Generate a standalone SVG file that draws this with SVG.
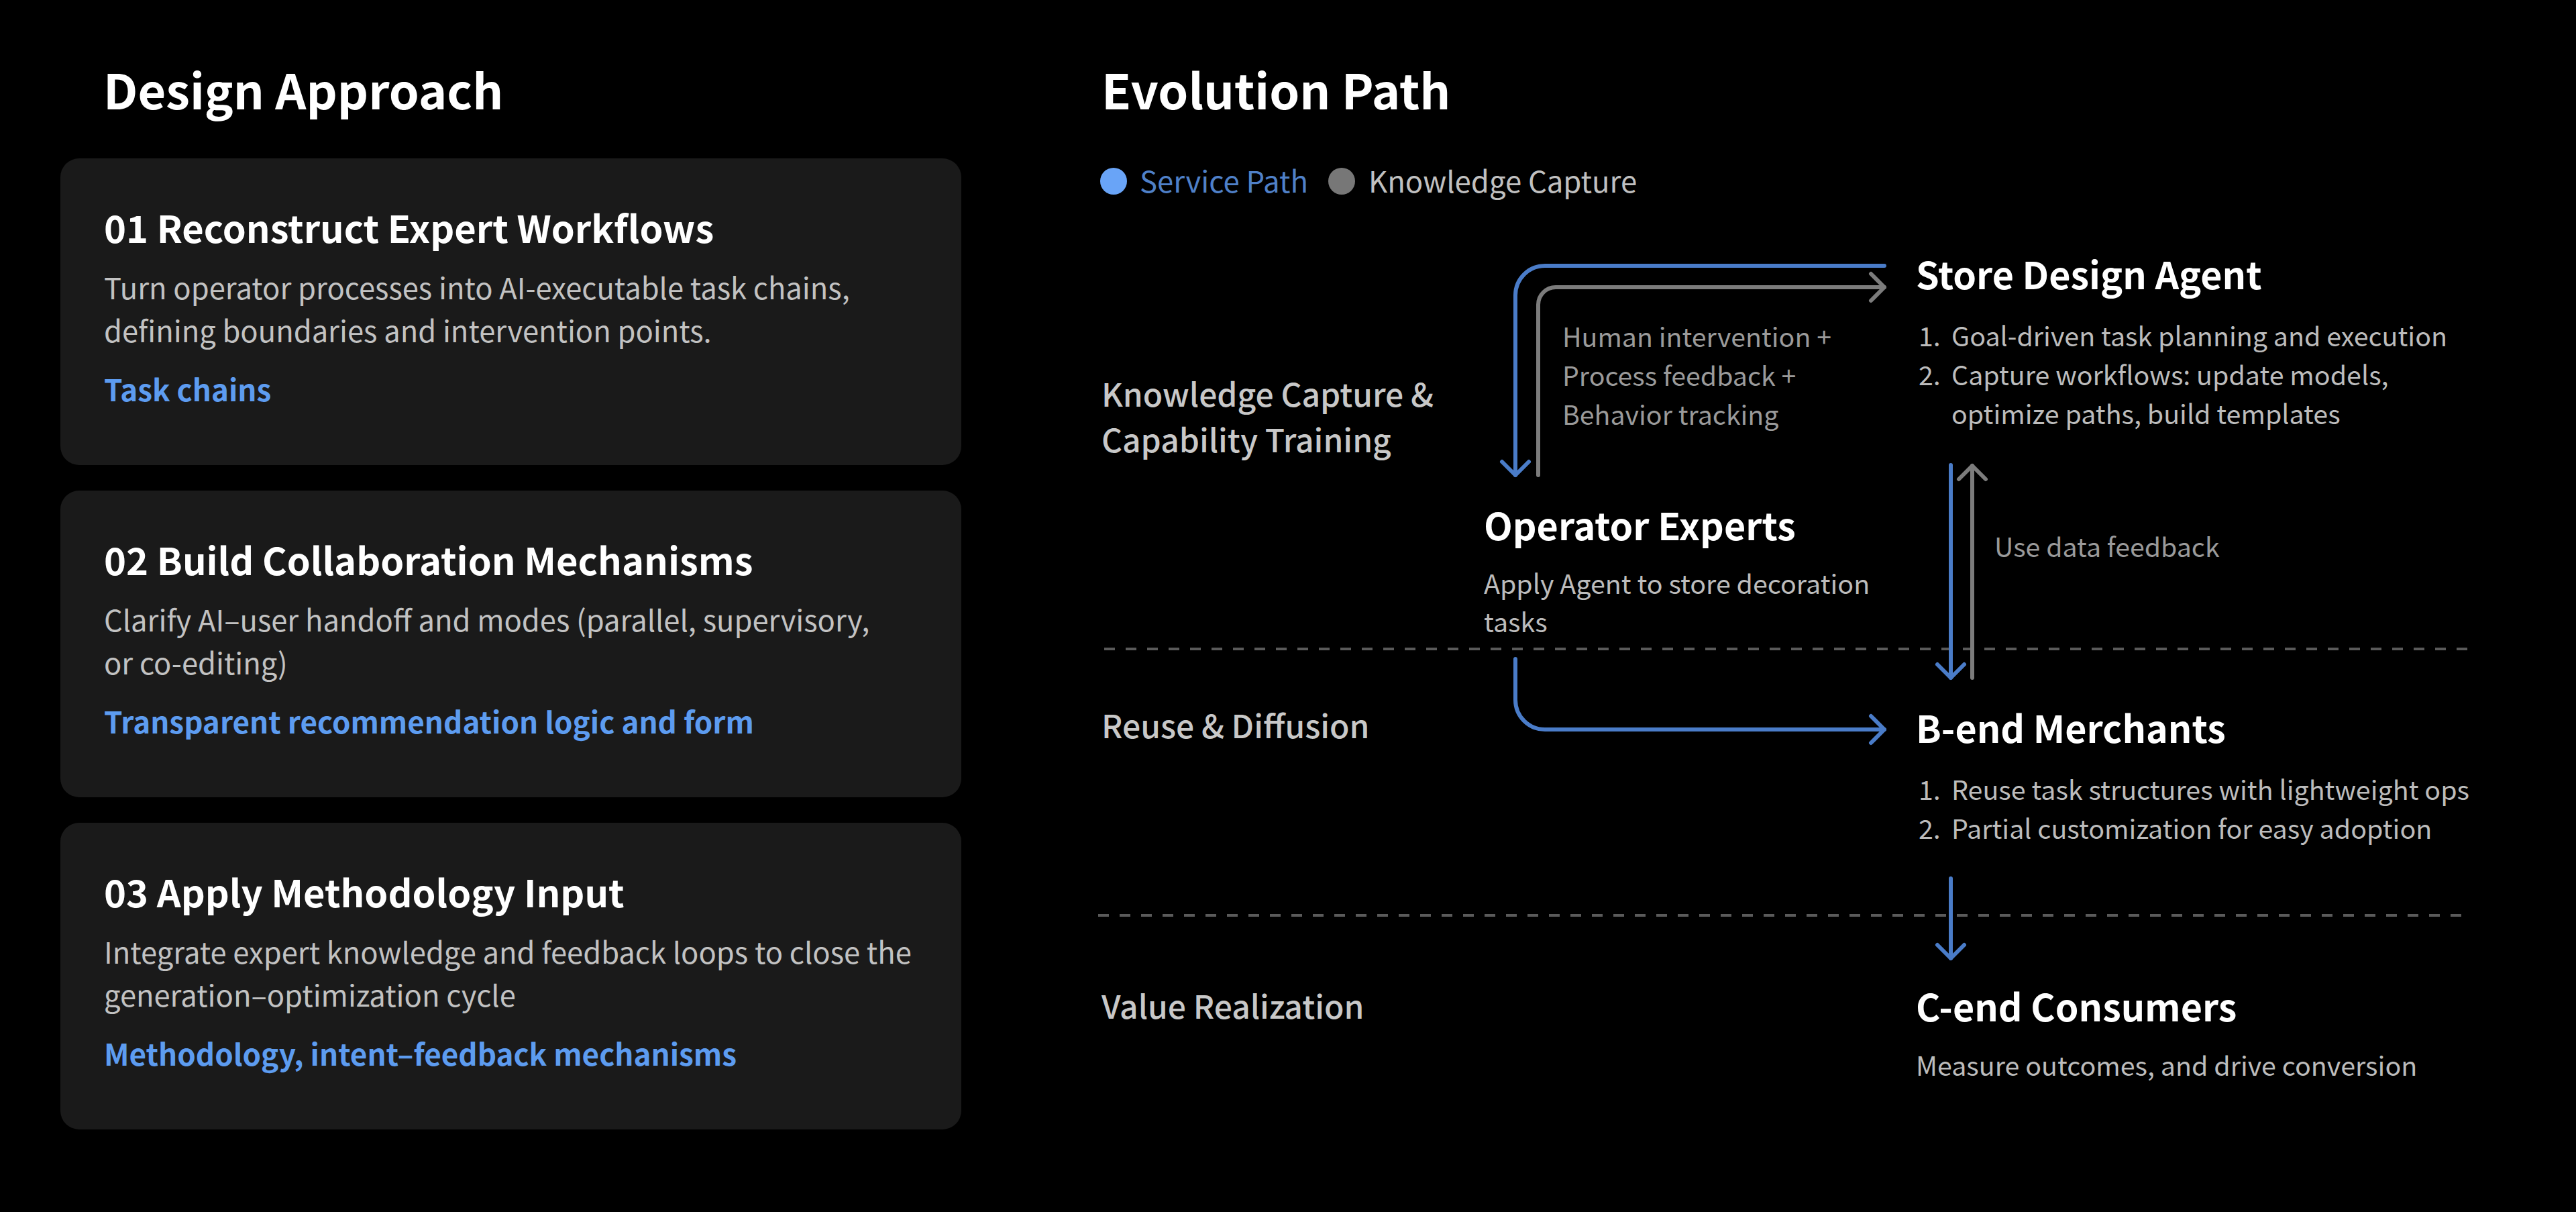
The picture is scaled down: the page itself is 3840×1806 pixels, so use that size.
<svg xmlns="http://www.w3.org/2000/svg" width="3840" height="1806" viewBox="0 0 3840 1806">
  <defs>
    <style>
      text { font-family: "Noto Sans CJK SC", "Noto Sans", sans-serif; }
      .h1 { font-size: 72px; font-weight: 700; fill: #ffffff; }
      .card { fill: #1a1a1a; }
      .ct { font-size: 56px; font-weight: 700; fill: #ffffff; }
      .cd { font-size: 43.5px; font-weight: 400; fill: #c2c2c2; }
      .cl { font-size: 44px; font-weight: 700; fill: #5d9cf0; }
      .lg { font-size: 43.7px; font-weight: 400; }
      .sec { font-size: 48px; font-weight: 500; fill: #c8c8c8; }
      .nt { font-size: 55.6px; font-weight: 700; fill: #ffffff; }
      .nd { font-size: 39.4px; font-weight: 400; fill: #bcbcbc; }
      .el { font-size: 39.3px; font-weight: 400; fill: #9a9a9a; }
      .blue { fill: none; stroke: #4a7cc8; stroke-width: 6; stroke-linecap: round; stroke-linejoin: round; }
      .gray { fill: none; stroke: #7c7c7c; stroke-width: 6; stroke-linecap: round; stroke-linejoin: round; }
      .dash { fill: none; stroke: #5a5a5a; stroke-width: 4; stroke-dasharray: 16 16; }
    </style>
  </defs>

  <rect width="3840" height="1806" fill="#000000"/>

  <!-- Left column: design approach -->
  <text class="h1" x="154" y="163">Design Approach</text>

  <g id="card-01">
    <rect class="card" x="90" y="236" width="1343" height="457" rx="28"/>
    <text class="ct" x="155" y="362">01 Reconstruct Expert Workflows</text>
    <text class="cd" x="155" y="446">Turn operator processes into AI-executable task chains,</text>
    <text class="cd" x="155" y="510">defining boundaries and intervention points.</text>
    <text class="cl" x="155" y="598">Task chains</text>
  </g>

  <g id="card-02">
    <rect class="card" x="90" y="731" width="1343" height="457" rx="28"/>
    <text class="ct" x="155" y="857">02 Build Collaboration Mechanisms</text>
    <text class="cd" x="155" y="941">Clarify AI–user handoff and modes (parallel, supervisory,</text>
    <text class="cd" x="155" y="1005">or co-editing)</text>
    <text class="cl" x="155" y="1093">Transparent recommendation logic and form</text>
  </g>

  <g id="card-03">
    <rect class="card" x="90" y="1226" width="1343" height="457" rx="28"/>
    <text class="ct" x="155" y="1352">03 Apply Methodology Input</text>
    <text class="cd" x="155" y="1436">Integrate expert knowledge and feedback loops to close the</text>
    <text class="cd" x="155" y="1500">generation–optimization cycle</text>
    <text class="cl" x="155" y="1588">Methodology, intent–feedback mechanisms</text>
  </g>

  <!-- Right column: evolution path -->
  <text class="h1" x="1642" y="163">Evolution Path</text>

  <g id="legend">
    <circle cx="1660" cy="270" r="20" fill="#69a4f7"/>
    <text class="lg" x="1699" y="287" fill="#4f80c8">Service Path</text>
    <circle cx="2000" cy="270" r="20" fill="#777777"/>
    <text class="lg" x="2040" y="287" fill="#c0c0c0">Knowledge Capture</text>
  </g>

  <!-- Stage labels and separators -->
  <g id="stages">
    <text class="sec" x="1642" y="606">Knowledge Capture &amp;</text>
    <text class="sec" x="1642" y="674">Capability Training</text>
    <text class="sec" x="1642" y="1100">Reuse &amp; Diffusion</text>
    <text class="sec" x="1642" y="1518">Value Realization</text>
    <line class="dash" x1="1646" y1="967" x2="3686" y2="967"/>
    <line class="dash" x1="1637" y1="1364" x2="3676" y2="1364"/>
  </g>

  <!-- Connectors -->
  <g id="connectors">
    <!-- Store Design Agent to Operator Experts -->
    <path class="blue" d="M2809 396 H2303 A44 44 0 0 0 2259 440 V708"/>
    <path class="blue" d="M2239 688 L2259 708 L2279 688"/>
    <!-- Operator Experts feedback to Store Design Agent -->
    <path class="gray" d="M2293 708 V454 A26 26 0 0 1 2319 428 H2809"/>
    <path class="gray" d="M2789 408 L2809 428 L2789 448"/>
    <text class="el" x="2329" y="517">Human intervention +</text>
    <text class="el" x="2329" y="575">Process feedback +</text>
    <text class="el" x="2329" y="633">Behavior tracking</text>
    <!-- Store Design Agent to B-end Merchants -->
    <path class="blue" d="M2908 693 V1010"/>
    <path class="blue" d="M2888 990 L2908 1010 L2928 990"/>
    <!-- Use data feedback -->
    <path class="gray" d="M2940 1010 V694"/>
    <path class="gray" d="M2920 714 L2940 694 L2960 714"/>
    <text class="el" x="2973" y="830">Use data feedback</text>
    <!-- Operator Experts to B-end Merchants -->
    <path class="blue" d="M2259 982 V1043 A44 44 0 0 0 2303 1087 H2809"/>
    <path class="blue" d="M2789 1067 L2809 1087 L2789 1107"/>
    <!-- B-end Merchants to C-end Consumers -->
    <path class="blue" d="M2908 1309 V1428"/>
    <path class="blue" d="M2888 1408 L2908 1428 L2928 1408"/>
  </g>

  <g id="store-design-agent">
    <text class="nt" x="2856" y="431">Store Design Agent</text>
    <text class="nd" x="2860" y="516">1.</text>
    <text class="nd" x="2909" y="516">Goal-driven task planning and execution</text>
    <text class="nd" x="2860" y="574">2.</text>
    <text class="nd" x="2909" y="574">Capture workflows: update models,</text>
    <text class="nd" x="2909" y="632">optimize paths, build templates</text>
  </g>

  <g id="operator-experts">
    <text class="nt" x="2212" y="805">Operator Experts</text>
    <text class="nd" x="2212" y="885">Apply Agent to store decoration</text>
    <text class="nd" x="2212" y="942">tasks</text>
  </g>

  <g id="b-end-merchants">
    <text class="nt" x="2856" y="1107">B-end Merchants</text>
    <text class="nd" x="2860" y="1192">1.</text>
    <text class="nd" x="2909" y="1192">Reuse task structures with lightweight ops</text>
    <text class="nd" x="2860" y="1250">2.</text>
    <text class="nd" x="2909" y="1250">Partial customization for easy adoption</text>
  </g>

  <g id="c-end-consumers">
    <text class="nt" x="2856" y="1522">C-end Consumers</text>
    <text class="nd" x="2856" y="1603">Measure outcomes, and drive conversion</text>
  </g>
</svg>
